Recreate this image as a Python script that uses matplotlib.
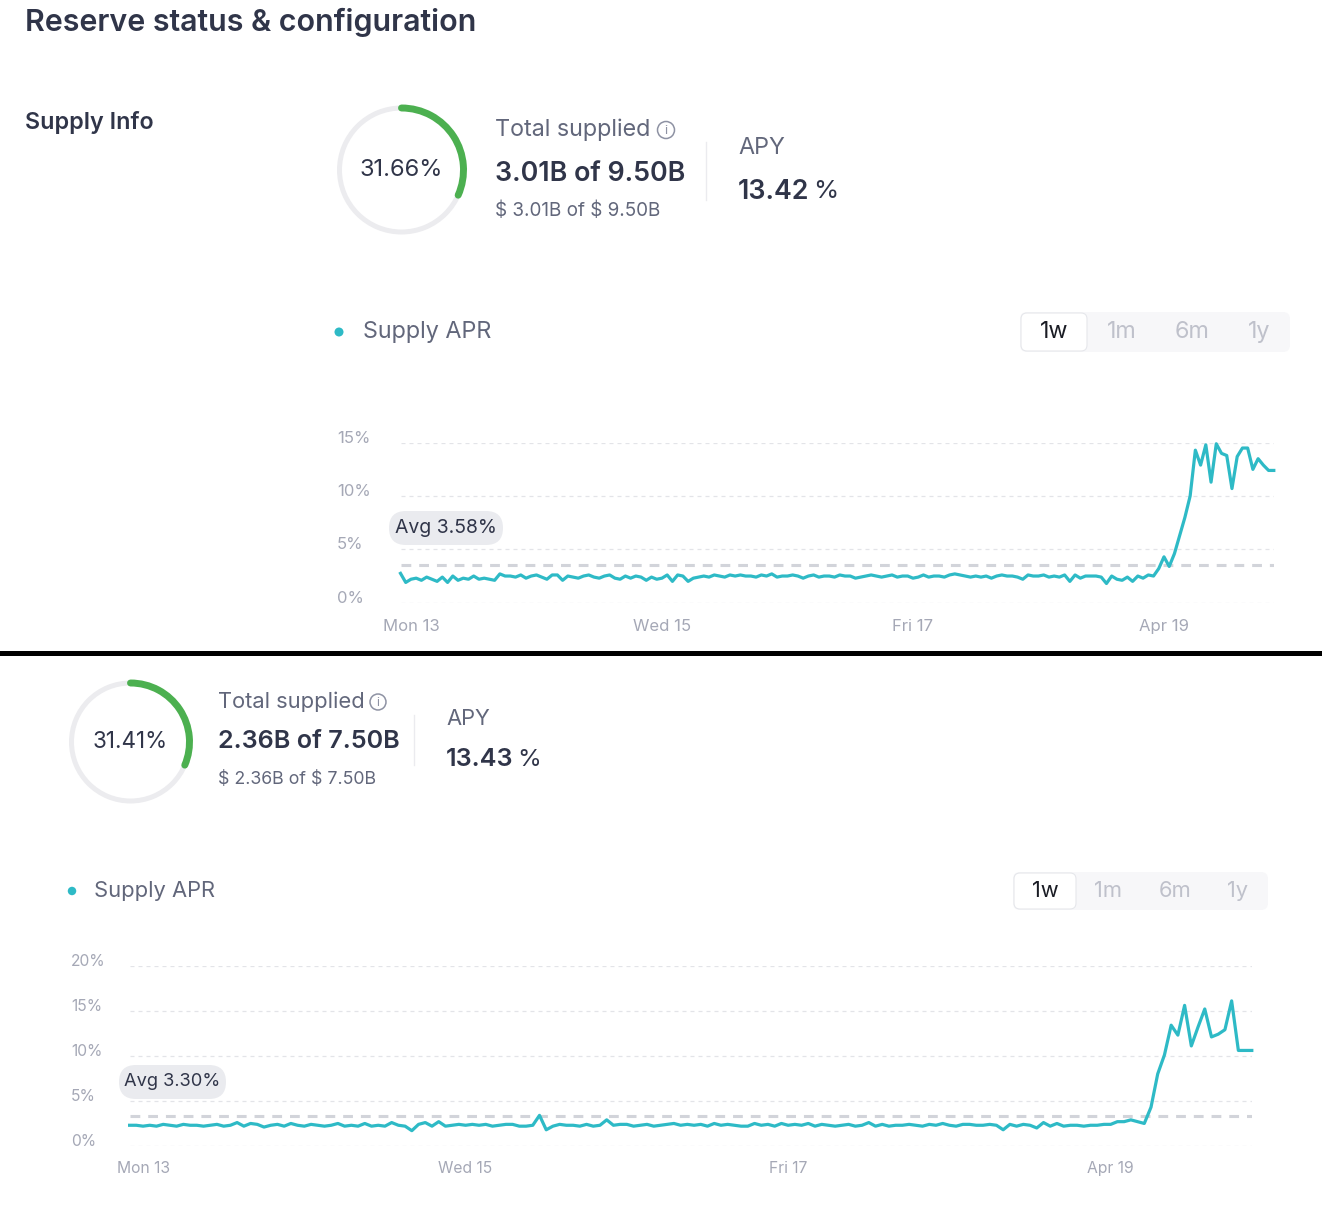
import numpy as np
import matplotlib
matplotlib.use("Agg")
import matplotlib.pyplot as plt
from matplotlib.patches import Arc, Circle, FancyBboxPatch, Rectangle

plt.rcParams['font.family'] = ['Inter', 'DejaVu Sans']

W, H = 1322, 1218
DPI = 100

TEAL = "#2ebac6"
GREEN = "#4cb050"
RING = "#ececef"
TEXT = "#303549"
SUB = "#62677b"
TICK = "#a5a8b6"
GRID = "#e3e4e8"
AVG_GREY = "#d2d4da"

# hourly samples, Sun 12 22:00 -> Sat 19 21:00 (hours from Mon 13 00:00)
hours = np.arange(-2, 166)
day_ticks = [0, 48, 96, 144]
day_labels = ["Mon 13", "Wed 15", "Fri 17", "Apr 19"]
periods = ["1w", "1m", "6m", "1y"]

# --- reserve 1 ---
top_pct = 31.66
top_amount = "3.01B of 9.50B"
top_usd = "$ 3.01B of $ 9.50B"
top_apy = "13.42"
top_avg = 3.58
top_yticks = [0, 5, 10, 15]
top_apr = [
    2.75, 1.9, 2.2, 2.3, 2.1, 2.4, 2.2, 2.0, 2.4, 1.9, 2.5, 2.1,
    2.3, 2.2, 2.5, 2.2, 2.3, 2.2, 2.1, 2.7, 2.5, 2.5, 2.4, 2.6,
    2.3, 2.5, 2.6, 2.4, 2.2, 2.6, 2.6, 2.1, 2.5, 2.4, 2.3, 2.5,
    2.6, 2.4, 2.3, 2.5, 2.6, 2.3, 2.2, 2.5, 2.3, 2.5, 2.4, 2.1,
    2.4, 2.2, 2.3, 2.6, 2.0, 2.6, 2.5, 2.0, 2.3, 2.4, 2.5, 2.4,
    2.6, 2.5, 2.4, 2.6, 2.5, 2.6, 2.5, 2.5, 2.4, 2.6, 2.5, 2.7,
    2.4, 2.5, 2.5, 2.6, 2.5, 2.3, 2.5, 2.6, 2.4, 2.5, 2.5, 2.4,
    2.6, 2.5, 2.5, 2.3, 2.4, 2.5, 2.6, 2.5, 2.4, 2.5, 2.6, 2.4,
    2.5, 2.5, 2.3, 2.4, 2.6, 2.4, 2.5, 2.5, 2.4, 2.6, 2.7, 2.6,
    2.5, 2.4, 2.5, 2.4, 2.5, 2.3, 2.5, 2.6, 2.5, 2.5, 2.4, 2.2,
    2.6, 2.5, 2.5, 2.6, 2.4, 2.5, 2.4, 2.6, 2.0, 2.6, 2.3, 2.5,
    2.5, 2.5, 2.4, 1.8, 2.5, 2.2, 2.1, 2.4, 2.0, 2.5, 2.3, 2.6,
    2.5, 3.2, 4.3, 3.4, 4.6, 6.3, 8.0, 10.0, 14.3, 12.9, 14.8, 11.3,
    14.9, 14.0, 13.8, 10.7, 13.7, 14.5, 14.5, 12.5, 13.5, 12.9, 12.4, 12.4,
]

# --- reserve 2 ---
bot_pct = 31.41
bot_amount = "2.36B of 7.50B"
bot_usd = "$ 2.36B of $ 7.50B"
bot_apy = "13.43"
bot_avg = 3.30
bot_yticks = [0, 5, 10, 15, 20]
bot_apr = [
    2.3, 2.3, 2.2, 2.3, 2.2, 2.4, 2.3, 2.2, 2.4, 2.3, 2.3, 2.2,
    2.3, 2.4, 2.2, 2.3, 2.6, 2.2, 2.5, 2.4, 2.1, 2.3, 2.4, 2.2,
    2.5, 2.3, 2.2, 2.4, 2.3, 2.2, 2.3, 2.5, 2.2, 2.3, 2.2, 2.5,
    2.2, 2.3, 2.2, 2.6, 2.3, 2.2, 1.7, 2.4, 2.6, 2.2, 2.7, 2.2,
    2.3, 2.4, 2.3, 2.4, 2.3, 2.4, 2.2, 2.3, 2.4, 2.4, 2.2, 2.2,
    2.3, 3.4, 1.8, 2.2, 2.4, 2.3, 2.3, 2.2, 2.4, 2.2, 2.3, 2.9,
    2.3, 2.4, 2.4, 2.2, 2.3, 2.4, 2.2, 2.3, 2.4, 2.5, 2.3, 2.4,
    2.3, 2.4, 2.2, 2.5, 2.3, 2.4, 2.3, 2.2, 2.2, 2.5, 2.3, 2.4,
    2.2, 2.5, 2.3, 2.4, 2.3, 2.5, 2.2, 2.4, 2.3, 2.2, 2.3, 2.4,
    2.2, 2.3, 2.6, 2.2, 2.4, 2.2, 2.3, 2.3, 2.4, 2.3, 2.2, 2.4,
    2.3, 2.5, 2.3, 2.2, 2.4, 2.4, 2.3, 2.3, 2.4, 2.3, 1.8, 2.4,
    2.2, 2.4, 2.3, 2.0, 2.6, 2.2, 2.5, 2.2, 2.3, 2.3, 2.2, 2.3,
    2.3, 2.4, 2.4, 2.7, 2.7, 2.9, 2.7, 2.5, 4.3, 8.0, 10.1, 13.4,
    12.3, 15.6, 11.1, 13.2, 15.2, 12.1, 12.4, 12.9, 16.1, 10.6, 10.6, 10.6,
]


def px_axes(fig, x0, y0, x1, y1):
    return fig.add_axes([x0 / W, 1 - y1 / H, (x1 - x0) / W, (y1 - y0) / H])


def donut(fig, cx, cy, r, pct, fs):
    ax = px_axes(fig, cx - r - 6, cy - r - 6, cx + r + 6, cy + r + 6)
    ax.set_xlim(-r - 6, r + 6)
    ax.set_ylim(-r - 6, r + 6)
    ax.set_aspect("equal")
    ax.axis("off")
    ax.add_patch(Arc((0, 0), 2 * r, 2 * r, color=RING, lw=3.6))
    green = Arc((0, 0), 2 * r, 2 * r, theta1=90 - 360 * pct / 100, theta2=90,
                color=GREEN, lw=5.0)
    green.set_capstyle("round")
    ax.add_patch(green)
    ax.text(0, 0, f"{pct:.2f}%", ha="center", va="center", fontsize=fs, color=TEXT)


def header(ov, tx, ys, info_x, div_x, div_y, apy_x, apy_ys, amount, usd, apy, s):
    ov.text(tx, ys[0], "Total supplied", fontsize=16.8 * s, color=SUB, va="center")
    ov.add_patch(Circle((info_x, ys[0]), 8.5 * s, fill=False, ec="#8e92a3", lw=1.1))
    ov.text(info_x, ys[0] + 0.5, "i", fontsize=9.5 * s, color="#8e92a3", ha="center", va="center")
    ov.text(tx, ys[1], amount, fontsize=19.3 * s, color=TEXT, va="center", fontweight="semibold")
    ov.text(tx, ys[2], usd, fontsize=13.6 * s, color=SUB, va="center", parse_math=False)
    ov.plot([div_x, div_x], div_y, color="#ebebef", lw=1.0)
    ov.text(apy_x, apy_ys[0], "APY", fontsize=16.8 * s, color=SUB, va="center")
    t = ov.text(apy_x, apy_ys[1], apy, fontsize=19.3 * s, color=TEXT, va="center",
                fontweight="semibold")
    ov.annotate("%", xy=(1, 0.5), xycoords=t, xytext=(2.5, 0), textcoords="offset points",
                ha="left", va="center", fontsize=18.5 * s, color=TEXT,
                annotation_clip=False)


def legend_and_buttons(ov, dot, txt_x, y, bg, sel, btn_x, s):
    ov.add_patch(Circle(dot, 4.5 * s, color=TEAL, lw=0))
    ov.text(txt_x, y, "Supply APR", fontsize=16.8 * s, color=SUB, va="center")
    ov.add_patch(FancyBboxPatch((bg[0], bg[1]), bg[2] - bg[0], bg[3] - bg[1],
                                boxstyle="round,pad=0,rounding_size=7",
                                fc="#f7f7f9", ec="none"))
    ov.add_patch(FancyBboxPatch((sel[0], sel[1]), sel[2] - sel[0], sel[3] - sel[1],
                                boxstyle="round,pad=0,rounding_size=6",
                                fc="white", ec="#e6e7eb", lw=0.8))
    for i, (lab, x) in enumerate(zip(periods, btn_x)):
        ov.text(x, y, lab, fontsize=16.8 * s, ha="center", va="center",
                color="#1a1c24" if i == 0 else "#bfc1cb")


def chart(fig, ov, box, values, yticks, avg, ylab_x, badge, s):
    ax = px_axes(fig, *box)
    ax.patch.set_alpha(0)
    for sp in ax.spines.values():
        sp.set_visible(False)
    for y in yticks:
        ax.axhline(y, color=GRID, lw=0.9, dashes=(3.2, 3.2), zorder=1)
    ax.axhline(avg, color=AVG_GREY, lw=2.2, dashes=(3.2, 2.6), zorder=2)
    ax.plot(hours, values, color=TEAL, lw=2.3, solid_joinstyle="round",
            clip_on=False, zorder=3)
    ax.set_xlim(hours[0], hours[-1])
    ax.set_ylim(0, yticks[-1])
    ax.set_yticks(yticks, [f"{v}%" for v in yticks])
    ax.set_xticks(day_ticks, day_labels)
    ax.tick_params(length=0, colors=TICK, labelsize=12 * s)
    ax.tick_params(axis="y", pad=(box[0] - ylab_x) * 0.72)
    ax.tick_params(axis="x", pad=11.5 * s)
    for t in ax.get_yticklabels():
        t.set_ha("left")
        t.set_va("baseline")
    # average pill
    bx0, by0, bx1, by1 = badge
    ov.add_patch(FancyBboxPatch((bx0, by0), bx1 - bx0, by1 - by0,
                                boxstyle=f"round,pad=0,rounding_size={(by1 - by0) / 2}",
                                fc="#eaebef", ec="none"))
    ov.text((bx0 + bx1) / 2, (by0 + by1) / 2, f"Avg {avg:.2f}%", ha="center", va="center",
            fontsize=14 * s, color=TEXT)


fig = plt.figure(figsize=(W / DPI, H / DPI), dpi=DPI)
ov = fig.add_axes([0, 0, 1, 1])
ov.set_xlim(0, W)
ov.set_ylim(H, 0)
ov.axis("off")

# top panel
ov.text(25, 22, "Reserve status & configuration", fontsize=21.9, color=TEXT,
        fontweight="semibold", va="center")
ov.text(25, 122, "Supply Info", fontsize=16.8, color=TEXT, fontweight="semibold", va="center")
donut(fig, 401.5, 170, 62, top_pct, 17)
header(ov, 495, [130, 174, 211], 666, 706, [142, 200], 738, [148, 192],
       top_amount, top_usd, top_apy, 1.0)
legend_and_buttons(ov, (339, 332), 363, 332, (1020, 312, 1290, 352),
                   (1021, 313, 1087, 351), [1054, 1122, 1192, 1259], 1.0)
chart(fig, ov, (400.5, 442.7, 1273.8, 602.7), top_apr, top_yticks, top_avg, 337,
      (389, 511, 503, 545), 1.0)

# separator
ov.add_patch(Rectangle((0, 651), W, 5, color="black", lw=0))

# bottom panel
donut(fig, 130.5, 742, 59, bot_pct, 16.2)
header(ov, 218, [702, 742, 779], 378, 414, [715, 765], 446, [719, 760],
       bot_amount, bot_usd, bot_apy, 0.94)
legend_and_buttons(ov, (72, 891), 94, 891, (1013, 872, 1268, 910),
                   (1014, 873, 1076, 909), [1045, 1108, 1175, 1238], 0.94)
chart(fig, ov, (129.6, 965.7, 1251.8, 1146), bot_apr, bot_yticks, bot_avg, 71,
      (119, 1065, 226, 1099), 0.94)

fig.savefig("out.png", dpi=DPI, facecolor="white")
